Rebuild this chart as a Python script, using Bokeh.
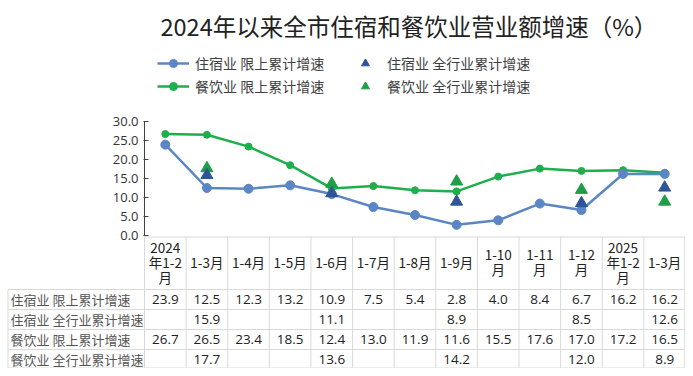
from bokeh.plotting import figure
from bokeh.models import (Range1d, FixedTicker, NumeralTickFormatter, Label, Legend,
                          LegendItem, LinearAxis)
from bokeh.embed import file_html
from bokeh.resources import INLINE
from bokeh.core.properties import value

# ---------------- data ----------------
TITLE = "2024年以来全市住宿和餐饮业营业额增速（%）"
CATEGORIES = ["2024\n年1-2\n月", "1-3月", "1-4月", "1-5月", "1-6月", "1-7月", "1-8月",
              "1-9月", "1-10\n月", "1-11\n月", "1-12\n月", "2025\n年1-2\n月", "1-3月"]
SERIES_NAMES = ["住宿业 限上累计增速", "住宿业 全行业累计增速",
                "餐饮业 限上累计增速", "餐饮业 全行业累计增速"]
LODGING_ABOVE = [23.9, 12.5, 12.3, 13.2, 10.9, 7.5, 5.4, 2.8, 4.0, 8.4, 6.7, 16.2, 16.2]
LODGING_ALL = [None, 15.9, None, None, 11.1, None, None, 8.9, None, None, 8.5, None, 12.6]
CATERING_ABOVE = [26.7, 26.5, 23.4, 18.5, 12.4, 13.0, 11.9, 11.6, 15.5, 17.6, 17.0, 17.2, 16.5]
CATERING_ALL = [None, 17.7, None, None, 13.6, None, None, 14.2, None, None, 12.0, None, 8.9]
Y_TICKS = [0, 5, 10, 15, 20, 25, 30]

# ---------------- styles / layout ----------------
BLUE = "#5B86C5"
BLUE_DARK = "#2F5597"
GREEN = "#1DAF4B"
GREEN_DARK = "#1E9E46"
GRID = "#D9D9D9"
CJK = "Noto Sans CJK SC"
NUM = "Open Sans"

W, H = 685, 368
N = len(CATEGORIES)
X = list(range(N))
AXIS_PX = 144                 # pixel x of the value axis
PXU = (W - AXIS_PX) / N       # pixels per category column
ZERO_PX = 235                 # pixel y of value 0
YPX = 3.8                     # pixels per value unit


def px_x(px):
    return (px - AXIS_PX) / PXU - 0.5


def px_y(py):
    return (ZERO_PX - py) / YPX


p = figure(width=W, height=H, output_backend="svg", toolbar_location=None,
           x_range=Range1d(px_x(0), px_x(W)), y_range=Range1d(px_y(H), px_y(0)),
           x_axis_location=None, y_axis_location=None,
           min_border=0, min_border_left=0, min_border_right=0,
           min_border_top=0, min_border_bottom=0)
p.outline_line_color = None
p.xgrid.visible = False
p.ygrid.visible = False

yax = LinearAxis(ticker=FixedTicker(ticks=Y_TICKS),
                 formatter=NumeralTickFormatter(format="0.0"),
                 bounds=(min(Y_TICKS), max(Y_TICKS)), fixed_location=-0.5)
yax.major_tick_in = 4
yax.major_tick_out = 1
yax.minor_tick_line_color = None
yax.axis_line_color = "#404040"
yax.major_tick_line_color = "#404040"
yax.major_label_text_font = NUM
yax.major_label_text_font_size = "13px"
yax.major_label_text_color = "#333333"
yax.major_label_standoff = 5
p.add_layout(yax, "left")

# ---------------- table ----------------
HEAD_TOP = px_y(236.5)
HEAD_BOT = px_y(289)
ROW_H = 20 / YPX
BOTTOM = px_y(367.5)
LEFT = px_x(7.5)
RIGHT = N - 0.5 - 0.02
rows = [LODGING_ABOVE, LODGING_ALL, CATERING_ABOVE, CATERING_ALL]
row_tops = [HEAD_BOT - r * ROW_H for r in range(len(rows))]

x0s, y0s, x1s, y1s = [], [], [], []
x0s.append(-0.5); y0s.append(HEAD_TOP); x1s.append(RIGHT); y1s.append(HEAD_TOP)
for yt in row_tops:
    x0s.append(LEFT); y0s.append(yt); x1s.append(RIGHT); y1s.append(yt)
x0s.append(LEFT); y0s.append(BOTTOM); x1s.append(RIGHT); y1s.append(BOTTOM)
x0s.append(LEFT); y0s.append(HEAD_BOT); x1s.append(LEFT); y1s.append(BOTTOM)
for k in range(N + 1):
    xv = k - 0.5 if k < N else RIGHT
    x0s.append(xv); y0s.append(HEAD_TOP); x1s.append(xv); y1s.append(BOTTOM)
p.segment(x0s, y0s, x1s, y1s, line_color=GRID, line_width=1)

p.text(X, [(HEAD_TOP + HEAD_BOT) / 2 + 0.4] * N, text=CATEGORIES, text_align="center",
       text_baseline="middle", text_font=value(CJK), text_font_size="13.5px",
       text_color="#222222", text_line_height=0.74)
p.text([px_x(10)] * len(rows), [yt - ROW_H / 2 for yt in row_tops],
       text=SERIES_NAMES, text_align="left", text_baseline="middle",
       text_font=value(CJK), text_font_size="13px", text_color="#555555")
vx, vy, vt = [], [], []
for r, vals in enumerate(rows):
    for i, v in enumerate(vals):
        if v is not None:
            vx.append(i); vy.append(row_tops[r] - ROW_H / 2); vt.append(f"{v:.1f}")
p.text(vx, vy, text=vt, text_align="center", text_baseline="middle",
       text_font=value(NUM), text_font_size="13.5px", text_color="#222222")

# ---------------- series ----------------
def pts(vals):
    xs = [x for x, v in zip(X, vals) if v is not None]
    ys = [v for v in vals if v is not None]
    return xs, ys


gl = p.line(X, CATERING_ABOVE, line_color=GREEN, line_width=2.5)
gs = p.scatter(X, CATERING_ABOVE, size=7, fill_color=GREEN, line_color=GREEN)
bl = p.line(X, LODGING_ABOVE, line_color=BLUE, line_width=2.5)
bs = p.scatter(X, LODGING_ABOVE, size=9, fill_color=BLUE, line_color=BLUE)
gx, gy = pts(CATERING_ALL)
gt = p.scatter(gx, gy, marker="triangle", size=12, fill_color=GREEN_DARK, line_color=GREEN_DARK)
bx, by = pts(LODGING_ALL)
bt = p.scatter(bx, by, marker="triangle", size=12, fill_color=BLUE_DARK, line_color=BLUE_DARK)

# ---------------- title ----------------
p.add_layout(Label(x=px_x(160), y=px_y(25), text=TITLE,
                   text_align="left", text_baseline="middle",
                   text_font=CJK, text_font_size="23.5px", text_color="#222222"))

# ---------------- legends ----------------
def make_legend(items, loc):
    lg = Legend(items=items, location=loc, orientation="vertical")
    lg.glyph_width = 32
    lg.glyph_height = 20
    lg.label_height = 20
    lg.spacing = 3
    lg.padding = 0
    lg.margin = 0
    lg.label_standoff = 6
    lg.border_line_color = None
    lg.background_fill_alpha = 0
    lg.label_text_font = CJK
    lg.label_text_font_size = "14px"
    lg.label_text_color = "#404040"
    return lg


leg1 = make_legend([LegendItem(label=SERIES_NAMES[0], renderers=[bl, bs]),
                    LegendItem(label=SERIES_NAMES[2], renderers=[gl, gs])], (157, H - 96))
leg2 = make_legend([LegendItem(label=SERIES_NAMES[1], renderers=[bt]),
                    LegendItem(label=SERIES_NAMES[3], renderers=[gt])], (349, H - 96))
p.add_layout(leg1, "center")
p.add_layout(leg2, "center")

with open("out.html", "w") as f:
    f.write(file_html(p, INLINE))
